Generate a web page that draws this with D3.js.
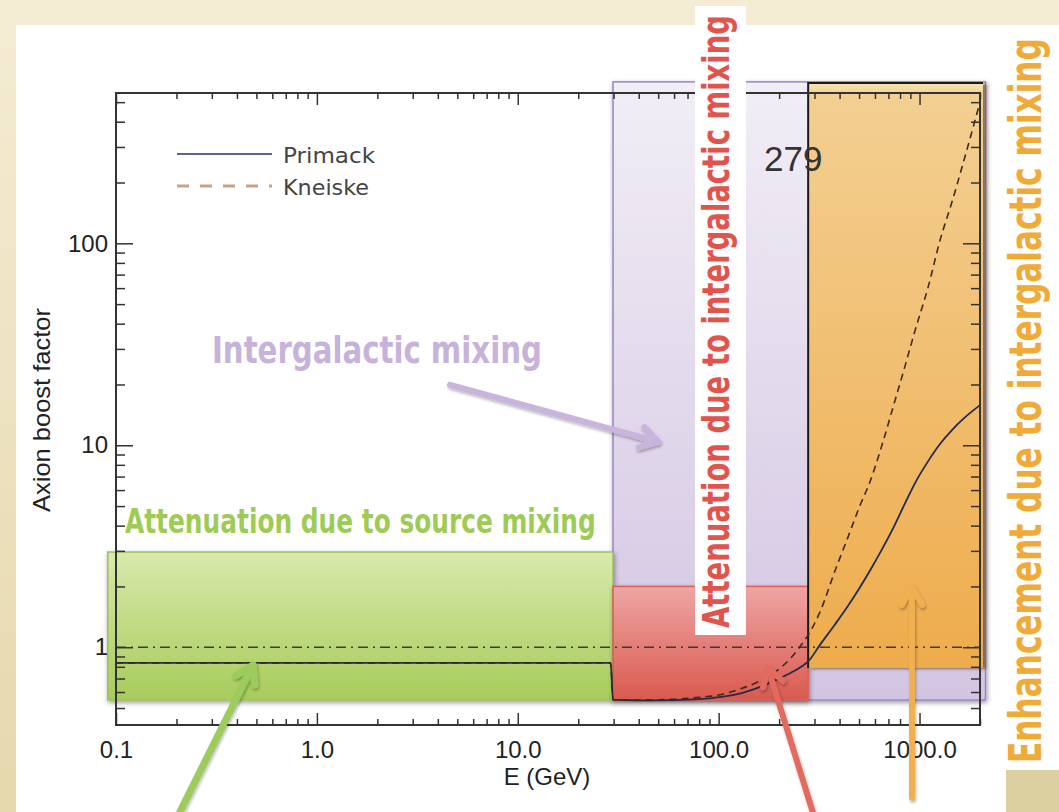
<!DOCTYPE html>
<html>
<head>
<meta charset="utf-8">
<script src="https://cdn.jsdelivr.net/npm/d3@7/dist/d3.min.js"></script>
<style>
  body { margin: 0; background: #efe5c6; }
  svg { display: block; }
</style>
</head>
<body>
<svg id="canvas"></svg>
<script>
// energies (GeV) and boost factors
let energy  = [0.1, 1, 10, 29, 29.8, 40, 60, 80, 100, 130, 160, 200, 230, 260, 279, 320, 380, 440, 500, 570, 650, 750, 850, 950, 1100, 1270, 1450, 1650, 2000];
let primack = [0.836, 0.836, 0.836, 0.836, 0.55, 0.545, 0.547, 0.553, 0.566, 0.593, 0.635, 0.70, 0.75, 0.805, 0.85, 1.03, 1.30, 1.60, 1.95, 2.42, 3.05, 4.0, 5.2, 6.5, 8.3, 10.2, 11.9, 13.5, 15.8];
let kneiske = [0.836, 0.836, 0.836, 0.836, 0.55, 0.548, 0.553, 0.565, 0.58, 0.625, 0.68, 0.78, 0.89, 1.04, 1.15, 1.5, 2.4, 3.5, 4.9, 6.7, 10.0, 16.3, 25, 37, 60, 105, 160, 250, 500];
let unityE = [0.1, 2000];
let unityB = [1, 1];

// shaded regions, [low, high] in energy and boost
let sourceE = [0.091, 29.8];
let sourceB = [0.548, 2.96];
let igmE = [29.8, 2130];
let igmB = [0.548, 630];
let attenE = [29.8, 279];
let attenB = [0.548, 2.0];
let enhanceE = [279, 2070];
let enhanceB = [0.79, 622];

// ticks
let xMajor = [0.1, 1, 10, 100, 1000];
let xTickLabels = ["0.1", "1.0", "10.0", "100.0", "1000.0"];
let yMajor = [1, 10, 100];
let yTickLabels = ["1", "10", "100"];

// annotation arrows: [tailE, tailB, tipE, tipB]
let arrowSource = [0.208, 0.153, 0.481, 0.817];
let arrowIgm = [4.6, 19.9, 49.9, 10.4];
let arrowAtten = [294, 0.153, 176, 0.79];
let arrowEnhance = [917, 0.18, 917, 1.97];

let width = 1059;
let height = 812;
let padLeft = 116, padRight = 980, padTop = 93, padBottom = 725;

let canvas = d3.select("#canvas").attr("width", width).attr("height", height);

let defs = canvas.append("defs");
let grad = (id, c0, c1, extra) => {
  let g = defs.append("linearGradient").attr("id", id).attr("x1", 0).attr("y1", 0).attr("x2", 0).attr("y2", 1);
  g.append("stop").attr("offset", "0%").attr("stop-color", c0);
  if (extra) g.append("stop").attr("offset", extra[0]).attr("stop-color", extra[1]);
  g.append("stop").attr("offset", "100%").attr("stop-color", c1);
};
grad("gParch", "#f4ecd4", "#e6d8ad");
grad("gGreen", "#d9e9ab", "#a7cc5b");
grad("gLav", "#f1eef6", "#d3c5e2");
grad("gRed", "#efa5a4", "#d95a4f");
grad("gOrange", "#f6e6b2", "#eeac4c", ["2%", "#f3cf92"]);

let shadow = defs.append("filter").attr("id", "shadow")
  .attr("x", "-10%").attr("y", "-10%").attr("width", "125%").attr("height", "125%");
shadow.append("feDropShadow").attr("dx", 1).attr("dy", 2).attr("stdDeviation", 2.5)
  .attr("flood-color", "#000").attr("flood-opacity", 0.4);
let shadowOr = defs.append("filter").attr("id", "shadowOr")
  .attr("x", "-10%").attr("y", "-10%").attr("width", "125%").attr("height", "125%");
shadowOr.append("feDropShadow").attr("dx", 3).attr("dy", 1).attr("stdDeviation", 1.5)
  .attr("flood-color", "#5a3a10").attr("flood-opacity", 0.7);
let shadowAr = defs.append("filter").attr("id", "shadowAr")
  .attr("x", "-20%").attr("y", "-20%").attr("width", "140%").attr("height", "140%");
shadowAr.append("feDropShadow").attr("dx", 1).attr("dy", 2).attr("stdDeviation", 1.5)
  .attr("flood-color", "#000").attr("flood-opacity", 0.3);

// slide background
canvas.append("rect").attr("width", width).attr("height", height).attr("fill", "url(#gParch)");
canvas.append("rect").attr("x", 16).attr("y", 25).attr("width", width - 16).attr("height", height - 25).attr("fill", "#fff");
canvas.append("rect").attr("x", 1006).attr("y", 770).attr("width", 53).attr("height", 42).attr("fill", "#dccfa0");

let xScale = d3.scaleLog().domain([0.1, 2000]).range([padLeft, padRight]);
let yScale = d3.scaleLog().domain([0.412, 555]).range([padBottom, padTop]);

let box = (e, b, fill, stroke, filter) => {
  canvas.append("rect")
    .attr("x", xScale(e[0])).attr("y", yScale(b[1]))
    .attr("width", xScale(e[1]) - xScale(e[0]))
    .attr("height", yScale(b[0]) - yScale(b[1]))
    .attr("fill", fill)
    .attr("stroke", stroke).attr("stroke-width", stroke == "none" ? 0 : 1.5)
    .attr("filter", filter);
};
box(igmE, igmB, "url(#gLav)", "#9a86c6", "url(#shadow)");
box(sourceE, sourceB, "url(#gGreen)", "#9cc35a", "url(#shadow)");
box(attenE, attenB, "url(#gRed)", "#d46058", "url(#shadow)");
box(enhanceE, enhanceB, "url(#gOrange)", "none", "url(#shadowOr)");
// black edges of the enhancement box
canvas.append("path")
  .attr("d", d3.line()([[xScale(enhanceE[0]), yScale(enhanceB[0])], [xScale(enhanceE[0]), yScale(enhanceB[1])], [xScale(enhanceE[1]), yScale(enhanceB[1])]]))
  .attr("fill", "none").attr("stroke", "#1a1a1a").attr("stroke-width", 2);

// curves
let line = d3.line().x(d => xScale(d[0])).y(d => yScale(d[1])).curve(d3.curveMonotoneX);
canvas.append("path").datum(unityE.map((e, i) => [e, unityB[i]]))
  .attr("d", line).attr("fill", "none").attr("stroke", "#3a3a3a")
  .attr("stroke-width", 1.5).attr("stroke-dasharray", "10,5,2,5");
canvas.append("path").datum(energy.map((e, i) => [e, primack[i]]))
  .attr("d", line).attr("fill", "none").attr("stroke", "#232a4a").attr("stroke-width", 1.8);
canvas.append("path").datum(energy.map((e, i) => [e, kneiske[i]]))
  .attr("d", line).attr("fill", "none").attr("stroke", "#3e2a1a")
  .attr("stroke-width", 1.6).attr("stroke-dasharray", "7,5");

// axes
let xMinor = [];
[0.1, 1, 10, 100, 1000].forEach(d => { for (let m = 2; m <= 9; m++) if (d * m <= 2000) xMinor.push(d * m); });
let yMinor = [];
[0.1, 1, 10, 100].forEach(d => { for (let m = 2; m <= 9; m++) { let v = d * m; if (v >= 0.412 && v <= 555) yMinor.push(v); } });

let styleAxis = (g) => {
  g.select(".domain").remove();
  g.selectAll("line").attr("stroke", "#333").attr("stroke-width", 1.5);
  g.attr("font-family", "'Liberation Sans', Arial, Helvetica, sans-serif").attr("font-size", 24);
  g.selectAll("text").attr("fill", "#222");
};

canvas.append("g").attr("transform", "translate(0," + padBottom + ")")
  .call(d3.axisBottom(xScale).tickValues(xMajor).tickSize(-12).tickPadding(16)
    .tickFormat((d, i) => xTickLabels[i])).call(styleAxis);
canvas.append("g").attr("transform", "translate(0," + padBottom + ")")
  .call(d3.axisBottom(xScale).tickValues(xMinor).tickSize(-6).tickFormat("")).call(styleAxis);
canvas.append("g").attr("transform", "translate(0," + padTop + ")")
  .call(d3.axisTop(xScale).tickValues(xMajor).tickSize(-12).tickFormat("")).call(styleAxis);
canvas.append("g").attr("transform", "translate(0," + padTop + ")")
  .call(d3.axisTop(xScale).tickValues(xMinor).tickSize(-6).tickFormat("")).call(styleAxis);
canvas.append("g").attr("transform", "translate(" + padLeft + ",0)")
  .call(d3.axisLeft(yScale).tickValues(yMajor).tickSize(-17).tickPadding(8)
    .tickFormat((d, i) => yTickLabels[i])).call(styleAxis);
canvas.append("g").attr("transform", "translate(" + padLeft + ",0)")
  .call(d3.axisLeft(yScale).tickValues(yMinor).tickSize(-9).tickFormat("")).call(styleAxis);
canvas.append("g").attr("transform", "translate(" + padRight + ",0)")
  .call(d3.axisRight(yScale).tickValues(yMajor).tickSize(-17).tickFormat("")).call(styleAxis);
canvas.append("g").attr("transform", "translate(" + padRight + ",0)")
  .call(d3.axisRight(yScale).tickValues(yMinor).tickSize(-9).tickFormat("")).call(styleAxis);

canvas.append("rect").attr("x", padLeft).attr("y", padTop)
  .attr("width", padRight - padLeft).attr("height", padBottom - padTop)
  .attr("fill", "none").attr("stroke", "#333").attr("stroke-width", 2);

// text squeezed to a given length, placed with translate/rotate
let fitText = (x, y, rot, target, txt, family, size, weight, color, anchor) => {
  let t = canvas.append("text").attr("font-family", family).attr("font-size", size)
    .attr("font-weight", weight).attr("fill", color).attr("text-anchor", anchor || "start").text(txt);
  let s = target / t.node().getComputedTextLength();
  t.attr("transform", "translate(" + x + "," + y + ") rotate(" + rot + ") scale(" + s + ",1)");
  return t;
};

let helv = "'Liberation Sans', Arial, Helvetica, sans-serif";
canvas.append("text").attr("x", 547).attr("y", 785).attr("text-anchor", "middle")
  .attr("font-family", helv).attr("font-size", 24).attr("fill", "#222").text("E (GeV)");
fitText(50, 410, -90, 204, "Axion boost factor", helv, 24, "normal", "#222", "middle");

// legend
let gothic = "'DejaVu Sans', Verdana, sans-serif";
canvas.append("line").attr("x1", 177).attr("x2", 272).attr("y1", 154).attr("y2", 154)
  .attr("stroke", "#5b6190").attr("stroke-width", 2);
canvas.append("line").attr("x1", 177).attr("x2", 272).attr("y1", 186).attr("y2", 186)
  .attr("stroke", "#c9a385").attr("stroke-width", 3).attr("stroke-dasharray", "12,11");
fitText(283, 163, 0, 92, "Primack", gothic, 21, "normal", "#444");
fitText(283, 195, 0, 86, "Kneiske", gothic, 21, "normal", "#444");

canvas.append("text").attr("x", 764).attr("y", 171).attr("font-family", helv).attr("font-size", 35)
  .attr("fill", "#333").text("279");

// annotation labels
let cond = "'Liberation Sans Narrow', 'DejaVu Sans Condensed', 'Liberation Sans', sans-serif";
canvas.append("rect").attr("x", 695).attr("y", 6).attr("width", 51).attr("height", 629).attr("fill", "#fff");
fitText(729, 628, -90, 613, "Attenuation due to intergalactic mixing", cond, 38, "bold", "#e0544c");
fitText(1041, 763, -90, 725, "Enhancement due to intergalactic mixing", cond, 44, "bold", "#f0aa38");
fitText(125, 533, 0, 471, "Attenuation due to source mixing", cond, 34, "bold", "#9dcb55");
fitText(212, 363, 0, 330, "Intergalactic mixing", cond, 38, "bold", "#c6b2da");

// arrows
let drawArrow = (a, color, w) => {
  let x0 = xScale(a[0]), y0 = yScale(a[1]), x1 = xScale(a[2]), y1 = yScale(a[3]);
  let ang = Math.atan2(y1 - y0, x1 - x0);
  let h = 20, spread = 0.55;
  let p1 = [x1 - h * Math.cos(ang - spread), y1 - h * Math.sin(ang - spread)];
  let p2 = [x1 - h * Math.cos(ang + spread), y1 - h * Math.sin(ang + spread)];
  let g = canvas.append("g").attr("filter", "url(#shadowAr)");
  g.append("path").attr("d", d3.line()([[x0, y0], [x1, y1]]))
    .attr("stroke", color).attr("stroke-width", w).attr("stroke-linecap", "round").attr("fill", "none");
  g.append("path").attr("d", d3.line()([p1, [x1, y1], p2]))
    .attr("stroke", color).attr("stroke-width", w).attr("stroke-linecap", "round")
    .attr("stroke-linejoin", "round").attr("fill", "none");
};
drawArrow(arrowIgm, "#c8b4dc", 6);
drawArrow(arrowSource, "#9ccc5c", 7);
drawArrow(arrowAtten, "#e26a5e", 6);
drawArrow(arrowEnhance, "#f0b050", 6);
</script>
</body>
</html>
